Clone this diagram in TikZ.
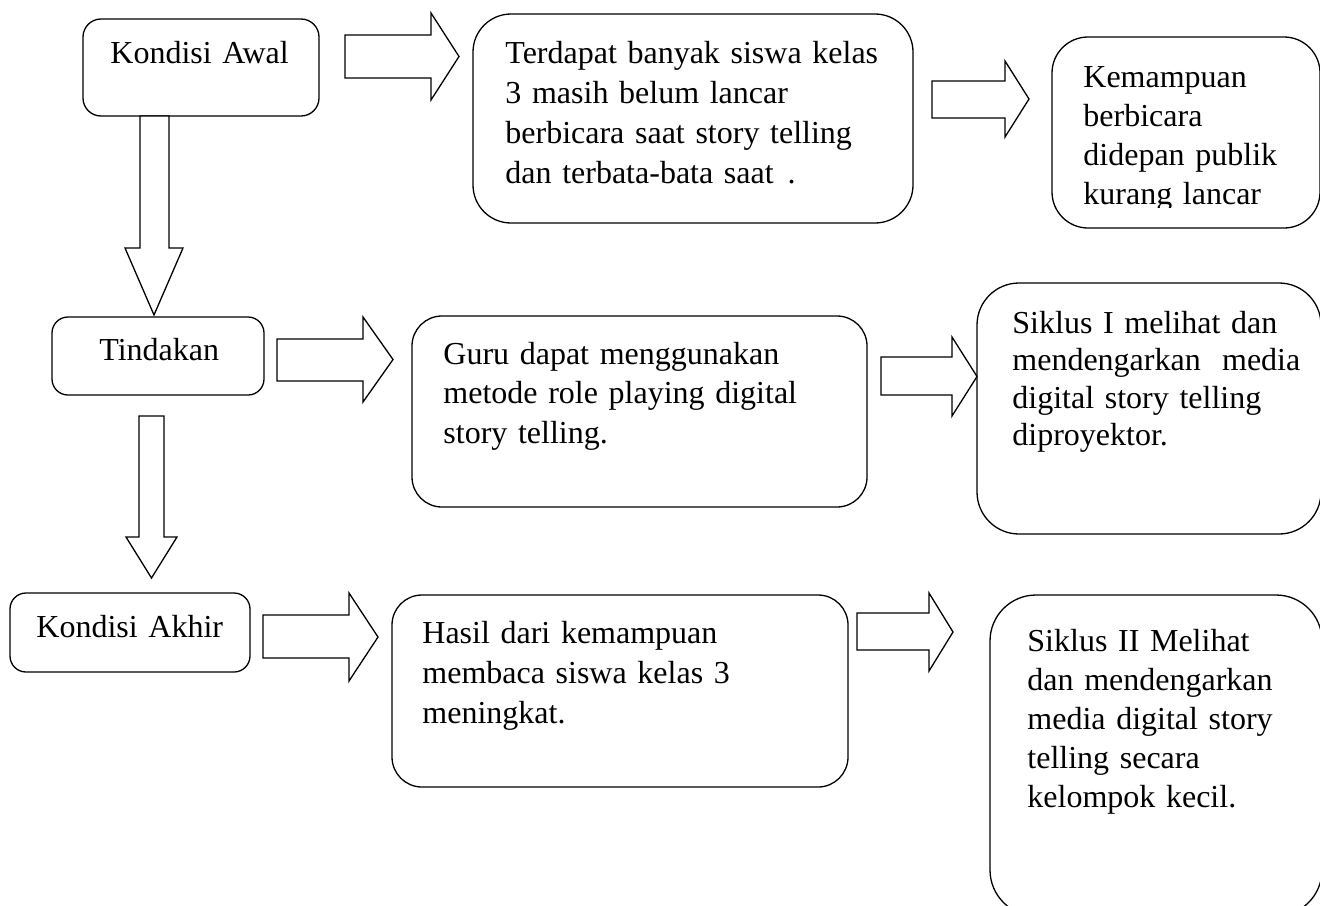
\documentclass[tikz,border=0pt]{standalone}
\usepackage{fontspec}
\setmainfont{Liberation Serif}
\usetikzlibrary{fit}
\newcommand\fsz[1]{\fontsize{16}{#1}\selectfont}
\tikzset{
  box/.style={draw, line width=0.65pt, inner sep=0pt, outer sep=0pt},
  txt/.style={anchor=base west, inner sep=0pt, text width=200pt, align=left},
  blk/.style={draw, line width=0.65pt, line join=miter, fill=white},
}
% right block arrow: x1 x2 x3 yshafttop yshaftbot yheadtop yheadbot
\newcommand\blockR[7]{\draw[blk] (#1,#4) -- (#2,#4) -- (#2,#6) -- (#3,{(#6+#7)/2}) -- (#2,#7) -- (#2,#5) -- (#1,#5) -- cycle;}
% down block arrow: xs1 xs2 xh1 xh2 y1 y2 y3
\newcommand\blockD[7]{\draw[blk] (#1,#5) -- (#1,#6) -- (#3,#6) -- ({(#3+#4)/2},#7) -- (#4,#6) -- (#2,#6) -- (#2,#5) -- cycle;}
\begin{document}
\begin{tikzpicture}[x=0.5pt, y=-0.5pt]
\useasboundingbox (0,0) rectangle (1320,905);

% boxes
\node[box, rounded corners=9pt,  fit={(83,19) (319,116)}]   (awal) {};
\node[box, rounded corners=19pt, fit={(473,14) (913,223)}]  (masalah) {};
\node[box, rounded corners=18pt, fit={(1052,37) (1320,228)}] (dampak) {};
\node[box, rounded corners=8pt,  fit={(52,317) (264,395)}]  (tindakan) {};
\node[box, rounded corners=15pt, fit={(412,316) (867,507)}] (guru) {};
\node[box, rounded corners=21pt, fit={(977,283) (1321,534)}] (siklus1) {};
\node[box, rounded corners=8pt,  fit={(10,593) (250,672)}]  (akhir) {};
\node[box, rounded corners=15pt, fit={(392,595) (848,787)}] (hasil) {};
\node[box, rounded corners=23pt, fit={(990,595) (1322,916)}] (siklus2) {};

% texts
\node[txt, font={\fsz{20}}] (tawal) at (110,63) {Kondisi Awal};
\node[txt, font={\fsz{20}}] (tmasalah) at (505,63) {Terdapat banyak siswa kelas\\3 masih belum lancar\\berbicara saat story telling\\dan terbata-bata saat\hspace{7pt}.};
\begin{scope}
\clip (1052,37) rectangle (1320,207);
\node[txt, font={\fsz{19.5}}] (tdampak) at (1083,87) {Kemampuan\\berbicara\\didepan publik\\kurang lancar};
\end{scope}
\node[txt, font={\fsz{20}}] (ttindakan) at (99,360) {Tindakan};
\node[txt, font={\fsz{19.75}}] (tguru) at (443,364) {Guru dapat menggunakan\\metode role playing digital\\story telling.};
\node[txt, font={\fsz{18.8}}] (tsiklus1) at (1012,333) {Siklus I melihat dan\\mendengarkan\ \ media\\digital story telling\\diproyektor.};
\node[txt, font={\fsz{20}}] (takhir) at (36,637) {Kondisi Akhir};
\node[txt, font={\fsz{20}}] (thasil) at (422,643) {Hasil dari kemampuan\\membaca siswa kelas 3\\meningkat.};
\node[txt, font={\fsz{19.5}}] (tsiklus2) at (1027,651) {Siklus II Melihat\\dan mendengarkan\\media digital story\\telling secara\\kelompok kecil.};

% block arrows
\blockR{345}{431}{459}{35}{78}{13}{100}
\blockR{932}{1005}{1029}{81}{118}{61}{137}
\blockR{277}{363}{393}{339}{381}{317}{402}
\blockR{881}{952}{977}{357}{395}{337}{416}
\blockR{263}{349}{378}{615}{658}{593}{681}
\blockR{857}{929}{953}{613}{650}{593}{671}
\blockD{140}{169}{125}{183}{116}{248}{315}
\blockD{139}{164}{126}{177}{416}{537}{578}
\end{tikzpicture}
\end{document}
